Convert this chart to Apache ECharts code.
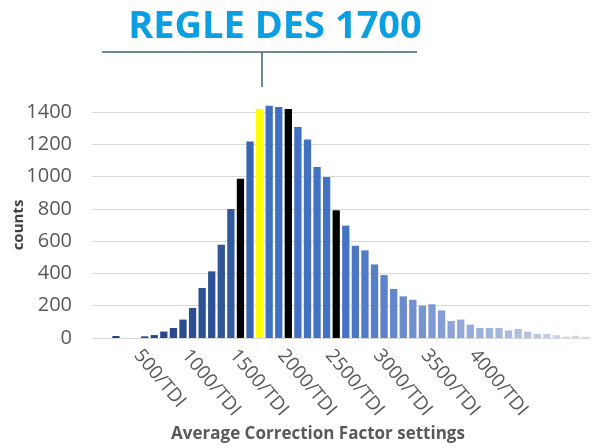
<!DOCTYPE html>
<html>
<head>
<meta charset="utf-8">
<script src="https://cdn.jsdelivr.net/npm/echarts@6/dist/echarts.min.js"></script>
<style>
  html, body {margin: 0; padding: 0; background: #fff;}
  #chart {width: 594px; height: 448px;}
</style>
</head>
<body>
<div id="chart"></div>
<script>
// bins of the correction factor (step 100), shown as "xxx/TDI"
const bins = [0, 100, 200, 300, 400, 500, 600, 700, 800, 900,
  1000, 1100, 1200, 1300, 1400, 1500, 1600, 1700, 1800, 1900,
  2000, 2100, 2200, 2300, 2400, 2500, 2600, 2700, 2800, 2900,
  3000, 3100, 3200, 3300, 3400, 3500, 3600, 3700, 3800, 3900,
  4000, 4100, 4200, 4300, 4400, 4500, 4600, 4700, 4800, 4900,
  5000, 5100];
const counts = [0, 0, 12, 0, 0, 10, 18, 40, 62, 114,
  186, 310, 413, 578, 799, 987, 1218, 1418, 1439, 1431,
  1418, 1307, 1229, 1059, 997, 791, 696, 572, 543, 456,
  390, 304, 258, 237, 200, 209, 171, 105, 114, 83,
  62, 62, 62, 47, 56, 39, 25, 25, 17, 8,
  14, 8];
const labelBins = [500, 1000, 1500, 2000, 2500, 3000, 3500, 4000];
const blackBins = [1500, 2000, 2500];
const yellowBin = 1700;
const yTicks = [0, 200, 400, 600, 800, 1000, 1200, 1400];

// shading of the blue bars from dark (left) to pale (right)
const shadeStops = [[0, '#1f3c78'], [13, '#2f5597'], [18, '#4070c0'], [26, '#4472c4'],
  [32, '#6a8acd'], [38, '#92a7da'], [45, '#b4c2e5'], [51, '#d3dbef']];
function mix(a, b, t) {
  const pa = [1, 3, 5].map(i => parseInt(a.substr(i, 2), 16));
  const pb = [1, 3, 5].map(i => parseInt(b.substr(i, 2), 16));
  return 'rgb(' + pa.map((v, i) => Math.round(v + (pb[i] - v) * t)).join(',') + ')';
}
function shade(i) {
  for (let k = 1; k < shadeStops.length; k++) {
    if (i <= shadeStops[k][0]) {
      const [i0, c0] = shadeStops[k - 1], [i1, c1] = shadeStops[k];
      return mix(c0, c1, (i - i0) / (i1 - i0));
    }
  }
  return shadeStops[shadeStops.length - 1][1];
}

const barData = counts.map((v, i) => {
  const b = bins[i];
  if (b === yellowBin) {
    return {value: v, itemStyle: {color: '#ffff00', borderColor: '#ffff00', borderWidth: 5}, z: 3};
  }
  if (blackBins.includes(b)) return {value: v, itemStyle: {color: '#000'}};
  return {value: v, itemStyle: {color: shade(i)}};
});

const myChart = echarts.init(document.getElementById('chart'));
const font = '"Open Sans", sans-serif';
const showLabel = (idx, val) => labelBins.includes(Number(val));

myChart.setOption({
  animation: false,
  textStyle: {fontFamily: font},
  grid: {left: 92, right: 4, top: 112, bottom: 110, outerBoundsMode: 'none'},
  xAxis: {
    type: 'category',
    data: bins.map(String),
    name: 'Average Correction Factor settings',
    nameLocation: 'middle',
    nameGap: 88,
    nameMoveOverlap: false,
    nameTextStyle: {color: '#595959', fontSize: 17, fontWeight: 'bold', padding: [0, 46, 0, 0]},
    axisLine: {lineStyle: {color: '#d9d9d9', width: 1}},
    axisTick: {alignWithLabel: true, interval: showLabel, length: 5, lineStyle: {color: '#8c8c8c'}},
    axisLabel: {
      interval: showLabel,
      rotate: -50,
      margin: 8,
      verticalAlign: 'top',
      lineHeight: 19,
      color: '#595959',
      fontSize: 19,
      formatter: v => v + '/TDI'
    },
    splitLine: {show: false}
  },
  yAxis: {
    type: 'value',
    min: yTicks[0],
    max: yTicks[yTicks.length - 1],
    interval: 200,
    name: 'counts',
    nameLocation: 'middle',
    nameGap: 66,
    nameMoveOverlap: false,
    nameTextStyle: {color: '#404040', fontSize: 15, fontWeight: 'bold'},
    axisLine: {show: false},
    axisTick: {show: false},
    axisLabel: {color: '#595959', fontSize: 20, margin: 20, formatter: v => String(v)},
    splitLine: {lineStyle: {color: '#d9d9d9', width: 1}}
  },
  series: [{
    type: 'bar',
    data: barData,
    barCategoryGap: '24%',
    clip: false
  }],
  graphic: [
    {
      type: 'text',
      style: {
        text: 'REGLE DES 1700', x: 275, y: 27, align: 'center', verticalAlign: 'middle',
        fill: '#0a9fe3', font: 'bold 38px "Open Sans", sans-serif'
      }
    },
    {type: 'line', shape: {x1: 102, y1: 52, x2: 417, y2: 52}, style: {stroke: '#3d6578', lineWidth: 1.5}},
    {type: 'line', shape: {x1: 262, y1: 52, x2: 262, y2: 87}, style: {stroke: '#3d6578', lineWidth: 1.5}}
  ]
});
</script>
</body>
</html>
